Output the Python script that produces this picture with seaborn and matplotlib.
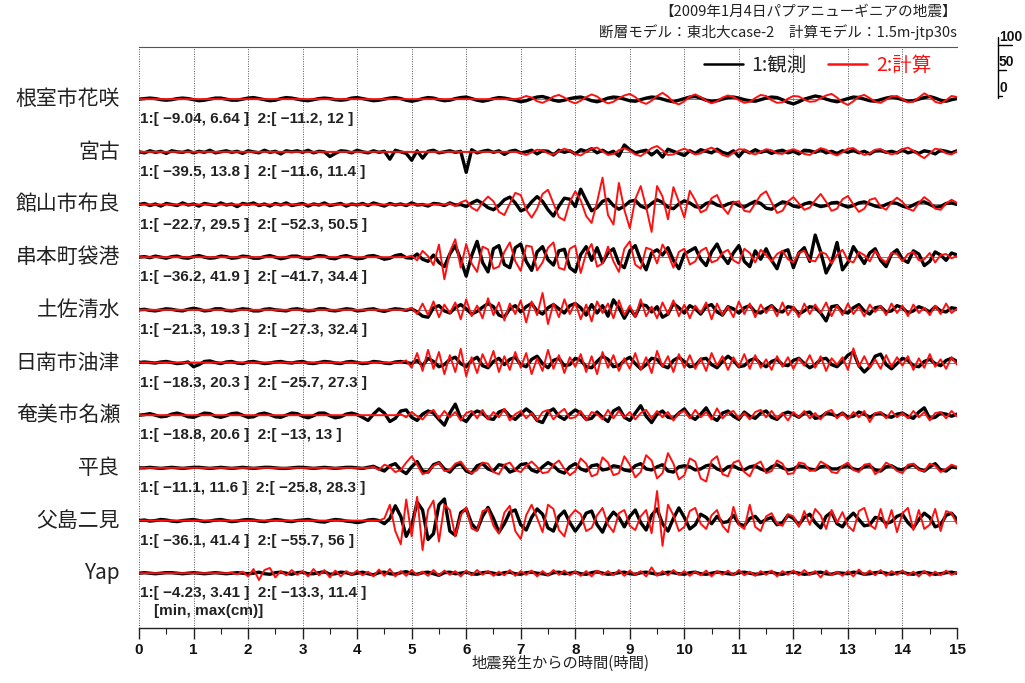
import numpy as np
import pandas as pd
import matplotlib
matplotlib.use("Agg")
import matplotlib.pyplot as plt
import matplotlib.transforms as mtransforms
from matplotlib.lines import Line2D
import seaborn as sns

# tide gauge stations, top to bottom
stations = ["根室市花咲", "宮古", "館山市布良", "串本町袋港", "土佐清水",
            "日南市油津", "奄美市名瀬", "平良", "父島二見", "Yap"]

# [min, max] labels (cm) printed under each trace
obs_min = ["−9.04", "−39.5", "−22.7", "−36.2", "−21.3", "−18.3", "−18.8", "−11.1", "−36.1", "−4.23"]
obs_max = ["6.64", "13.8", "29.5", "41.9", "19.3", "20.3", "20.6", "11.6", "41.4", "3.41"]
calc_min = ["−11.2", "−11.6", "−52.3", "−41.7", "−27.3", "−25.7", "−13", "−25.8", "−55.7", "−13.3"]
calc_max = ["12", "11.4", "50.5", "34.4", "32.4", "27.3", "13", "28.3", "56", "11.4"]

# sea level (cm), one value every 0.1 h from 0 to 15 h
nemuro_obs = [0, 1, 2, 1, -1, -2, -1, 1, 2, 1,
              -1, -3, -2, 0, 2, 2, 0, -2, -2, 0,
              2, 3, 1, -1, -3, -2, 1, 3, 2, 0,
              -2, -3, -1, 1, 2, 1, -1, -2, -1, 2,
              3, 1, -1, -3, -2, 0, 2, 3, 1, -2,
              -4, -2, 1, 3, 2, -1, -3, -2, 1, 3,
              4, 1, -2, -4, -2, 1, 3, 2, 0, -2,
              -5, -3, 1, 4, 5, 2, -2, -4, -2, 1,
              3, 4, 1, -3, -5, -2, 2, 4, 3, 0,
              -3, -4, -1, 2, 4, 3, 0, -3, -5, -2,
              1, 4, 5, 2, -2, -4, -3, 0, 3, 4,
              2, -1, -3, -4, -1, 2, 4, 3, -1, -6,
              -9, -5, 0, 3, 6, 4, 0, -3, -5, -2,
              1, 4, 3, 0, -3, -4, -1, 2, 4, 2,
              -1, -4, -3, 0, 3, 5, 2, -2, -4, -1,
              1]
nemuro_calc = [0] * 70 + [
              2, 6, 3, -4, -7, -2, 5, 8, 3, -4,
              -8, -3, 4, 9, 5, -3, -8, -5, 2, 7,
              10, 4, -5, -9, -3, 6, 12, 5, -6, -10,
              -4, 5, 9, 4, -3, -8, -4, 3, 7, 4,
              -2, -7, -5, 2, 8, 6, -2, -7, -6, 1,
              6, 5, -1, -5, -4, 2, 7, 10, 3, -6,
              -11, -4, 5, 8, 2, -5, -7, -1, 5, 6,
              0, -6, -5, 3, 11, 5, -5, -8, -2, 6,
              4]
miyako_obs = [0, -2, 2, -1, 1, -3, 2, 0, -1, 2,
              -2, 1, -1, 3, -2, 0, 2, -1, 1, -3,
              2, 0, -2, 3, -1, 1, -4, 2, 0, 2,
              -1, 3, -2, 1, 0, -9, -3, 2, 1, -2,
              3, 0, -2, 2, -1, 1, -14, 3, 0, -3,
              -16, 2, -12, 1, 3, -2, 0, 2, -1, 1,
              -39, 4, -2, 1, 3, -1, 2, -5, 1, 3,
              -2, 0, 3, -4, 2, 1, -6, 3, -1, 2,
              -4, 4, 1, 6, -2, 3, -3, 1, -8, 13,
              4, -2, 1, 3, -6, 2, -10, 5, 1, -3,
              -7, 2, -3, 4, 1, -2, 5, -1, -4, 2,
              -9, 3, -2, 4, -1, 2, -3, 1, 3, -2,
              1, -4, 3, 2, -1, 4, -2, 1, -3, 2,
              -1, 3, -2, 1, -4, 2, 3, -1, 1, -2,
              4, -2, 1, -3, 2, 0, -4, 3, 1, -2,
              2]
miyako_calc = [0] * 70 + [
              -2, -6, -1, 4, 3, -3, -5, 1, 6, 2,
              -4, -7, 0, 6, 8, 1, -6, -4, 3, 7,
              2, -5, -8, -1, 7, 11, 3, -6, -5, 2,
              6, 1, -5, -3, 4, 8, 2, -6, -9, -2,
              5, 4, -2, -5, 0, 5, 3, -3, -4, 2,
              5, 1, -4, -6, 1, 7, 4, -3, -7, -1,
              6, 7, 0, -6, -3, 4, 5, -1, -5, -2,
              5, 8, 2, -6, -12, -3, 6, 4, -3, -5,
              1]
tateyama_obs = [0, 2, -2, 1, -3, 2, 0, -2, 3, -1,
              1, -3, 2, 0, -2, 3, -1, 1, -4, 2,
              0, 3, -2, 1, -3, 2, -1, 3, -2, 0,
              2, -3, 1, -1, 3, -2, 0, 2, -3, 1,
              -1, 2, -2, 3, 0, -3, 2, -1, 1, -2,
              3, -1, 0, -3, 2, 1, -2, 3, -1, 0,
              -4, 3, 8, 2, -6, -10, -2, 9, 14, 3,
              -12, -8, 5, 15, 6, -10, -22, -3, 12, 10,
              -4, 29, 8, -12, -6, 6, 10, -2, -9, -3,
              6, 8, -3, -7, 2, 9, 4, -5, -8, 1,
              7, 3, -4, -6, 2, 5, -1, -4, 1, 4,
              -2, -5, 1, 6, 2, -7, -9, -1, 5, 3,
              -3, -5, 1, 4, 0, -4, -2, 3, 4, -1,
              -5, -2, 3, 5, 1, -3, -5, 0, 4, 2,
              -3, -6, -1, 4, 5, 0, -5, -4, 2, 3,
              0]
tateyama_calc = [0] * 57 + [
              2, -3, 4,
              8, -6, -12, 4, 15, 6, -14, -20, 2, 22,
              18, -10, -25, -8, 20, 28, 2, -24, -30, 5,
              25, 8, -22, -35, 5, 51, -20, -38, 41, -10,
              -45, 10, 35, -5, -52, 35, 15, -28, 33, 5,
              -25, 26, 8, -15, -10, 12, 18, -5, -18, 4,
              6, -12, -14, 2, 18, 25, 4, -16, -12, 6,
              14, 2, -10, -6, 8, 20, 5, -12, -8, 10,
              16, 0, -14, -8, 9, 12, -4, -10, 4, 13,
              5, -8, -12, 3, 14, 6, -8, -10, 2, 9,
              3]
kushimoto_obs = [0, 1, -1, 2, 0, -2, 1, 2, -1, -2,
              1, 3, 0, -2, -1, 2, 1, -2, -1, 2,
              1, -2, -2, 1, 3, 0, -3, -1, 2, 2,
              -1, -3, 0, 3, 2, -2, -3, 1, 3, 0,
              -3, -2, 2, 3, 0, -4, -2, 3, 5, -1,
              -2, 6, -4, -8, 4, -10, -18, 6, 22, -5,
              -36, 3, 30, -10, -28, 16, 22, -14, -20, 18,
              25, -8, -25, 10, 20, -5, -15, 12, 15, -20,
              -28, 5, 20, -6, 18, -10, 8, 16, -12, -20,
              12, 22, -6, -24, 8, 14, 4, 18, -6, -22,
              6, 12, 18, -4, -16, 10, 25, 2, -12, 8,
              22, -8, -18, 12, -4, 16, -6, -22, 10, 14,
              -20, 8, 18, -8, 42, 10, -30, -10, 28, -24,
              -10, 20, 4, -12, 8, 16, -6, -18, 6, 14,
              -4, -10, 12, 6, -16, -8, 10, 4, -6, 8,
              4]
kushimoto_calc = [0] * 50 + [
              3, -6, 12, 2, -15, 24, -42, 10, 34, -20,
              25, -12, -28, 20, 15, -22, -18, 10, 28, -8,
              -26, 22, 20, -25, -10, 18, 28, -20, -24, 16,
              22, -30, 8, 25, -18, -12, 20, -8, -28, 16,
              30, -14, -22, 18, 14, -12, 24, 6, -20, 10,
              16, -14, -8, 12, 18, -10, -6, 8, 14, -6,
              -12, 16, 8, -10, 14, 4, -8, 6, 12, -4,
              -10, 8, 12, -6, -8, 10, 6, -12, 4, 14,
              -6, -10, 10, 4, -8, 12, -2, -10, 8, 6,
              -8, 6, 10, -6, -4, 8, -10, 4, 6, -2,
              2]
tosa_obs = [0, 1, -1, -2, 0, 2, 1, -1, -2, 1,
              3, 1, -2, -1, 2, 2, -1, -2, 0, 2,
              1, -2, -2, 1, 2, 0, -1, -2, 1, 2,
              0, -2, -1, 2, 2, -1, -2, 0, 2, 1,
              -2, -1, 1, 2, -1, -3, 0, 2, 1, -1,
              2, -4, -12, -14, 4, 8, -2, -6, 4, 10,
              2, -8, -3, 5, 12, 6, -10, -14, 2, 8,
              -4, 6, 12, -2, -8, 4, 10, 2, -6, 8,
              12, 4, -10, 10, -6, 8, -12, 19, 4, -16,
              2, -12, 10, 8, -4, 6, -14, -8, 12, 4,
              -6, 8, 2, -8, 6, 10, -4, -10, 6, 2,
              -6, 4, 8, -4, -6, 2, 8, -2, -4, 6,
              4, -8, -2, 6, 4, -6, -21, 6, 8, -4,
              -6, 4, 10, -2, -8, 4, 6, -4, -2, 8,
              4, -6, -2, 6, 2, -4, 6, -2, -4, 4,
              2]
tosa_calc = [0] * 50 + [
              4, -8, 12, -10, 16, -14, 10, -6, 14, -18,
              20, -12, 8, -16, 22, -10, 14, -20, 12, -8,
              18, -24, 16, -10, 32, -27, 12, -14, 20, -8,
              14, -18, 10, -22, 16, -6, 12, -16, 18, -10,
              8, -14, 20, -12, 6, -16, 14, -8, 18, -12,
              10, -16, 8, -6, 14, -18, 12, -10, 6, -14,
              16, -8, 12, -14, 10, -6, 8, -12, 14, -10,
              6, -14, 12, -8, 10, -6, 14, -12, 8, -10,
              12, -8, 6, -12, 10, -4, 8, -10, 12, -6,
              8, -12, 10, -6, 4, -10, 8, -8, 12, -6,
              2]
nichinan_obs = [0, 1, 0, -1, 1, 2, 0, -2, -1, 1,
              -8, -4, 2, 3, 0, -2, 1, 2, -1, -2,
              1, 2, 0, -2, -1, 1, 2, 0, -1, 1,
              2, -1, -2, 0, 2, 1, -1, -2, 1, 2,
              0, -2, -1, 2, 1, -1, -2, 1, 2, 0,
              -2, 4, -6, 8, 2, -8, -4, 6, 10, -2,
              -8, 4, 10, -6, -10, 2, 8, -4, 6, 10,
              -4, -8, 6, 12, -2, -10, 4, 8, -6, -4,
              8, 4, -8, -10, 2, 12, 6, -8, -6, 4,
              10, -2, -12, -4, 8, 6, -6, -10, 4, 10,
              2, -8, -6, 6, 8, -4, -10, 2, 12, 4,
              -8, -6, 4, 8, -2, -8, 2, 6, -4, -6,
              4, 8, -2, -10, -4, 6, 8, -4, -8, 2,
              14, 20, -6, -18, -8, 12, 16, -4, -12, -2,
              8, 4, -6, -8, 2, 6, -2, -6, 4, 8,
              2]
nichinan_calc = [0] * 49 + [
              4,
              -10, 18, -16, 24, -12, 20, -22, 14, -18, 26,
              -26, 10, -20, 16, -8, 22, -18, 12, -14, 20,
              -10, 18, -22, 8, -16, 24, -12, 14, -20, 10,
              -8, 16, -18, 12, -22, 20, -10, 14, -16, 8,
              -12, 18, -14, 10, -20, 22, -8, 12, -18, 16,
              -10, 14, -12, 8, -16, 18, -6, 12, -14, 10,
              -8, 16, -12, 14, -10, 6, -14, 12, -8, 10,
              -12, 8, -6, 14, -10, 12, -16, 8, -4, 10,
              -14, 27, -8, 12, -10, 6, -12, 14, -8, 10,
              -6, 12, -14, 8, -10, 16, -8, 6, -12, 10,
              -4]
amami_obs = [0, 1, 3, 0, -3, -2, 2, 4, 1, -3,
              -4, 0, 4, 3, -2, -4, -1, 3, 4, 0,
              -4, -3, 2, 4, 1, -3, -4, 0, 4, 3,
              -2, -5, -1, 4, 4, -1, -5, -3, 2, 4,
              1, -4, -10, 2, 12, 4, -12, -6, 8, 10,
              -4, -10, 2, 8, 4, -8, -19, 4, 21, -6,
              -12, 2, 8, 4, -6, -8, 6, 10, -2, -8,
              2, 12, 4, -10, -14, 6, 12, -2, -8, 2,
              10, 4, -8, -6, 6, -4, -12, 8, 14, -4,
              -10, 4, 18, -2, -14, 2, 8, -4, -6, 4,
              12, -2, -8, 2, 14, -4, -10, 4, 8, -2,
              -8, 6, -2, -6, 4, 8, -4, -8, 2, 6,
              2, -4, 4, 6, -6, -4, 4, 2, -2, 4,
              -4, -2, 6, 2, -4, 2, 4, -2, -4, 2,
              4, -2, -6, 6, 14, -6, -4, 4, 2, -2,
              2]
amami_calc = [0] * 48 + [
              2, -4,
              6, -2, -8, 4, 10, -6, 8, -4, 6, -10,
              4, 8, -6, 10, -8, 6, -4, 12, -10, 2,
              8, -6, 4, -10, 6, 10, -8, 4, 12, -6,
              -4, 8, -10, 6, 2, -8, 10, -6, 8, -4,
              6, -8, 4, 10, -6, 8, -4, 6, -10, 4,
              8, -6, 10, -4, 6, -8, 13, -6, 4, 8,
              -6, 4, -8, 6, 10, -4, 8, -6, 4, -10,
              6, -4, 8, -6, 4, -8, 6, 10, -6, 4,
              -8, 6, -4, 8, -13, 4, 6, -6, 8, -4,
              4, -6, 8, -4, 6, -10, 4, 6, -6, 8,
              -2]
hirara_obs = [0, 0, 1, 0, -1, 0, 1, 0, -1, 0,
              1, 1, 0, -1, 0, 1, 0, -1, 0, 1,
              0, -1, 0, 1, 1, 0, -1, -1, 0, 1,
              1, 0, -1, 0, 1, 0, -1, 0, 1, 1,
              0, -1, 1, 3, -2, -6, 4, 8, -4, -11,
              2, 12, -6, -8, 6, 10, -2, -8, 4, 8,
              -6, -10, 4, 8, -2, -6, 6, 4, -8, -4,
              6, 8, -4, -8, 2, 10, 4, -6, -10, 2,
              8, -2, -6, 4, 6, -4, -2, 4, 2, -4,
              -6, 4, 8, -2, -4, 2, 6, -6, -8, 2,
              4, 2, -4, -2, 4, 6, -2, -6, 2, 4,
              -2, -4, 2, 4, -2, -6, 2, 6, 0, -4,
              -2, 4, 2, -2, -4, 2, 4, -2, -2, 2,
              4, -2, -4, 2, 4, -4, -6, 2, 4, -2,
              -4, 2, 6, -2, -6, 2, 8, -4, -6, 2,
              0]
hirara_calc = [0] * 43 + [
              2, -4, 6, 2, -8, -4, 10,
              22, 6, -12, -8, 4, 10, -6, -4, 8, 12,
              -2, -10, -4, 10, 8, -8, -12, 6, 10, -4,
              -8, 4, 12, 2, -10, -8, 6, 14, -2, -14,
              -6, 18, 8, -16, -12, 20, 10, -14, -10, 22,
              6, -18, -8, 24, 14, -20, -10, 28, 8, -22,
              -14, 18, 12, -20, -26, 14, 22, -12, -16, 10,
              14, -8, -16, 6, 12, -10, -6, 14, 8, -12,
              -10, 10, 8, -6, -4, 12, 6, -8, -10, 4,
              10, -4, -8, 6, 8, -12, -4, 10, 4, -6,
              -10, 6, 8, -4, -6, 8, 4, -8, -2, 6,
              2]
chichijima_obs = [0, 1, -1, 0, 2, 1, -1, -2, 0, 1,
              2, 0, -2, -1, 1, 2, 0, -2, -1, 1,
              2, 1, -1, -2, 0, 2, 1, -1, -2, 0,
              1, 2, 0, -2, -3, 0, 2, 1, -1, -2,
              -4, -2, 1, 2, 0, -6, 4, 28, 8, -30,
              -10, 35, 20, -36, -25, 30, 41, -20, -28, 15,
              22, -6, -18, 8, 25, 4, -22, -6, 16, 20,
              -8, -18, 6, 22, 12, -14, -20, 8, 18, -4,
              -20, -6, 14, 18, -8, -22, 2, 16, 6, -12,
              8, 20, -4, -18, 10, 22, -6, -20, 4, 24,
              6, -16, -8, 12, 6, -6, 8, -4, -2, 10,
              -6, -10, 4, 8, -4, 2, 6, -8, -4, 10,
              4, -8, 6, 12, -4, -14, 8, 16, -6, -12,
              4, 14, 2, -10, -8, 6, 4, -6, -2, 8,
              12, -4, -14, 2, 14, 6, -12, -8, 10, 14,
              2]
chichijima_calc = [0] * 45 + [
              4, 30, -20, -45, 40,
              -30, 45, -56, 20, 38, -40, 30, 20, -30, 10,
              25, -15, -20, 18, 22, -10, -25, 15, 28, -20,
              -35, 10, 30, 5, -22, 30, 22, -18, -30, 8,
              20, 12, -20, -14, 10, 24, -8, -22, 14, 20,
              -10, -18, 8, 20, -24, 56, -48, 30, 10, -20,
              -12, 18, 24, -6, -16, 10, 20, -10, -22, 26,
              -8, -16, 30, -12, -20, 8, 14, -6, -10, 12,
              8, -12, 18, -8, 22, 10, -16, 20, -4, 16,
              -10, -20, 18, 24, -8, -16, 22, -14, 20, -22,
              14, 24, -18, 20, -16, -8, 22, -20, 18, 14,
              -6]
yap_obs = [0, 1, 0, -1, 0, 1, 1, 0, -1, 0,
              1, 0, -1, 0, 1, 0, -1, 0, 1, 0,
              -1, 0, 2, -1, -2, 1, 2, 0, -2, 1,
              2, -1, -1, 1, 3, -2, -1, 2, 1, -2,
              0, 2, -1, -3, 1, 2, -1, -2, 1, 3,
              -1, -2, 1, 2, -1, -4, 1, 2, -1, 0,
              2, -1, -2, 1, 2, 0, -2, 1, 2, -1,
              -2, 1, 2, 0, -1, -3, 1, 2, -1, 0,
              2, -1, -2, 1, 3, 0, -2, -1, 1, 2,
              -1, -2, 1, 2, 0, -2, -1, 2, 1, -1,
              -2, 1, 2, -1, -2, 0, 2, 1, -1, -2,
              1, 2, 0, -2, -1, 1, 2, -1, -2, 1,
              2, 0, -2, -1, 1, 2, -1, -2, 1, 0,
              -1, 2, 1, -2, -1, 1, 2, 0, -2, 1,
              2, -1, -2, 1, 2, 0, -2, -1, 1, 2,
              0]
yap_calc = [0] * 17 + [
              1, -2, 3,
              -6, 8, -13, 6, 10, -8, 4, -4, 6, -3,
              4, -6, 8, -4, 6, -8, 5, -6, 4, -3,
              5, -4, 3, -6, 7, -5, 8, -6, 4, -5,
              6, -4, 3, -5, 6, -4, 5, -3, 4, -6,
              5, -4, 6, -3, 4, -5, 3, -4, 6, -5,
              4, -3, 5, -6, 4, -4, 6, -3, 5, -4,
              3, -5, 4, -6, 5, -3, 4, -4, 6, -5,
              5, -3, 4, -6, 11, -5, 4, -4, 6, -3,
              4, -5, 3, -4, 5, -6, 4, -3, 5, -4,
              6, -4, 3, -5, 4, -3, 5, -6, 4, -3,
              5, -4, 6, -3, 4, -8, 5, -4, 3, -5,
              4, -6, 7, -3, 5, -4, 6, -5, 4, -3,
              5, -4, 3, -6, 4, -5, 3, -4, 5, -3,
              2]

obs_series = [nemuro_obs, miyako_obs, tateyama_obs, kushimoto_obs, tosa_obs,
              nichinan_obs, amami_obs, hirara_obs, chichijima_obs, yap_obs]
calc_series = [nemuro_calc, miyako_calc, tateyama_calc, kushimoto_calc, tosa_calc,
               nichinan_calc, amami_calc, hirara_calc, chichijima_calc, yap_calc]

hours = np.linspace(0, 15, 151)
obs_label = "1:観測"
calc_label = "2:計算"
spacing = 100  # vertical offset between stations, in cm

frames = []
for i, name in enumerate(stations):
    for kind, vals in ((obs_label, obs_series[i]), (calc_label, calc_series[i])):
        assert len(vals) == len(hours), (name, kind, len(vals))
        frames.append(pd.DataFrame({"hour": hours,
                                    "level": np.array(vals, float) - spacing * i,
                                    "station": name, "kind": kind}))
df = pd.concat(frames, ignore_index=True)

sns.set_style("white")
plt.rcParams["font.family"] = ["Noto Sans CJK JP", "DejaVu Sans"]
num_font = ["Liberation Sans", "DejaVu Sans"]

W, H = 1025, 683
fig = plt.figure(figsize=(W / 100, H / 100), dpi=100)
ax = fig.add_axes([139 / W, 1 - 628 / H, 818 / W, 581 / H])

for h in range(16):
    ax.axvline(h, color="#555555", lw=0.7, ls=(0, (1, 1.5)), zorder=0)
for i in range(len(stations)):
    ax.axhline(-spacing * i, color="#666666", lw=0.6, zorder=1)

colors = {obs_label: "black", calc_label: "#ff1010"}
sns.lineplot(data=df, x="hour", y="level", hue="kind", size="kind",
             hue_order=[obs_label, calc_label], palette=colors,
             sizes={obs_label: 2.4, calc_label: 1.4},
             units="station", estimator=None, sort=False, ax=ax, zorder=3,
             legend=False)

ax.set_xlim(0, 15)
ax.set_ylim(-1004, 99)
ax.set_yticks([])
ax.set_ylabel("")
ax.set_xticks(range(16))
ax.set_xticks(np.arange(0.5, 15, 1), minor=True)
ax.tick_params(axis="x", which="major", direction="out", length=8, width=1,
               color="#222222", labelsize=11, pad=3, bottom=True)
ax.tick_params(axis="x", which="minor", direction="out", length=4.5, width=0.8,
               color="#222222", bottom=True)
for lbl in ax.get_xticklabels():
    lbl.set_fontweight("bold")
    lbl.set_family(num_font)
    lbl.set_color("#111111")
ax.set_xlabel("地震発生からの時間(時間)", fontsize=11, color="#222222")
ax.xaxis.set_label_coords(0.515, -0.047)

ax.spines["left"].set_visible(False)
ax.spines["right"].set_visible(False)
ax.spines["top"].set_color("#555555")
ax.spines["top"].set_linewidth(0.8)
ax.spines["bottom"].set_color("#222222")
ax.spines["bottom"].set_linewidth(1.0)

trans = mtransforms.blended_transform_factory(ax.transAxes, ax.transData)
for i, name in enumerate(stations):
    ax.text(-0.023, -spacing * i, name, transform=trans, ha="right", va="center",
            fontsize=15, color="#222222")
    ax.text(0.02, -spacing * i - 38,
            f"1:[ {obs_min[i]}, {obs_max[i]} ]  2:[ {calc_min[i]}, {calc_max[i]} ]",
            ha="left", va="center", fontsize=11, fontweight="bold",
            family=num_font, color="#222222", zorder=4)
ax.text(0.275, -spacing * 9 - 72, "[min, max(cm)]", ha="left", va="center",
        fontsize=11, fontweight="bold", family=num_font, color="#222222")

handles = [Line2D([], [], color=colors[k], lw=1.8) for k in (obs_label, calc_label)]
leg = ax.legend(handles, [obs_label, calc_label], loc="upper right",
                bbox_to_anchor=(0.978, 1.0), ncol=2, frameon=False,
                fontsize=14, handlelength=2.0, columnspacing=1.1,
                handletextpad=0.45, borderaxespad=0)
leg.get_texts()[0].set_color("#222222")
leg.get_texts()[1].set_color(colors[calc_label])

fig.text(957 / W, 1 - 12 / H, "【2009年1月4日パプアニューギニアの地震】",
         ha="right", va="center", fontsize=10.5, color="#222222")
fig.text(957 / W, 1 - 32 / H, "断層モデル：東北大case-2　計算モデル：1.5m-jtp30s",
         ha="right", va="center", fontsize=10.5, color="#222222")

# little scale bar at the right edge
fig.add_artist(Line2D([998 / W, 998 / W], [1 - 37 / H, 1 - 98 / H],
                      transform=fig.transFigure, color="black", lw=1))
for label, y, length in (("100", 45, 14), ("50", 70, 8), ("0", 96, 4)):
    fig.add_artist(Line2D([998 / W, (998 + length) / W], [1 - y / H, 1 - y / H],
                          transform=fig.transFigure, color="black", lw=1))
    fig.text(999 / W, 1 - (y - 1) / H, label, ha="left", va="bottom",
             fontsize=10, fontweight="bold", family=num_font, color="#111111")

fig.savefig("out.png", dpi=100)
